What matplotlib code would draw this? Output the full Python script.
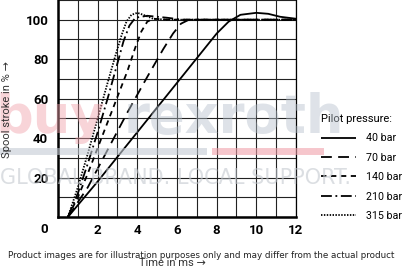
import matplotlib
matplotlib.use("Agg")
import matplotlib.pyplot as plt
from matplotlib.lines import Line2D

# time in ms, spool stroke in %
t_40 = [0.5, 2.0, 4.0, 6.0, 8.0, 8.6, 9.2, 10.0, 10.6, 11.2, 12.0]
s_40 = [0, 18, 43, 68, 93, 99, 102.5, 103.5, 103, 101.5, 100.5]

t_70 = [0.5, 1.5, 2.5, 3.5, 4.5, 5.3, 5.8, 6.2, 6.6, 7.0, 12.0]
s_70 = [0, 15, 34, 53, 71, 85, 93, 98, 100, 100, 100]

t_140 = [0.5, 1.0, 1.5, 2.0, 2.5, 3.0, 3.5, 3.9, 4.2, 4.5, 4.8, 5.5, 12.0]
s_140 = [0, 10, 22, 35, 48, 61, 74, 86, 94, 99, 100.5, 100, 100]

t_210 = [0.5, 1.0, 1.5, 2.0, 2.5, 3.0, 3.3, 3.6, 3.9, 4.5, 5.5, 6.3, 12.0]
s_210 = [0, 12, 27, 43, 60, 78, 89, 97, 101, 102, 101, 100, 100]

t_315 = [0.5, 1.0, 1.5, 2.0, 2.5, 2.9, 3.2, 3.45, 3.7, 4.0, 4.3, 4.8, 5.5, 12.0]
s_315 = [0, 15, 32, 50, 68, 82, 92, 99, 102.5, 103.5, 102.5, 100.5, 100, 100]

labels = ["40 bar", "70 bar", "140 bar", "210 bar", "315 bar"]
x_ticks = [2, 4, 6, 8, 10, 12]
y_ticks = [20, 40, 60, 80, 100]

FONT = ["Roboto", "DejaVu Sans"]

W, H = 406, 266
fig = plt.figure(figsize=(W / 100, H / 100), dpi=100)
ax = fig.add_axes([58 / W, 49 / H, 238 / W, 217 / H])

series = [(t_40, s_40, (0, ())), (t_70, s_70, (0, (6, 3.5))),
          (t_140, s_140, (0, (3, 2.5))), (t_210, s_210, (0, (6, 2, 1, 2))),
          (t_315, s_315, (0, (0.8, 0.8)))]
for (t, s, ls), lab in zip(series, labels):
    ax.plot(t, s, color="black", lw=1.3, linestyle=ls, label=lab, zorder=3)

ax.set_xlim(0, 12)
ax.set_ylim(0, 110)
ax.set_xticks(range(0, 13), minor=True)
ax.set_yticks(range(0, 111, 10), minor=True)
ax.set_xticks(x_ticks)
ax.set_yticks(y_ticks)
ax.grid(True, which="both", color="#222222", lw=0.8)
ax.tick_params(which="both", length=0)
ax.tick_params(axis="y", pad=7)
ax.tick_params(axis="x", pad=5)
for lab in ax.get_xticklabels() + ax.get_yticklabels():
    lab.set_fontfamily(FONT)
    lab.set_fontweight("bold")
    lab.set_fontsize(9.5)
ax.spines["top"].set_visible(False)
ax.spines["right"].set_linewidth(0.9)
ax.spines["left"].set_linewidth(1.8)
ax.spines["bottom"].set_linewidth(1.8)
ax.text(-0.68, -6.5, "0", ha="center", va="center", fontsize=9.5,
        fontweight="bold", family=FONT, clip_on=False)

fig.text(7 / W, 1 - 110 / H, "Spool stroke in % \u2192", rotation=90,
         ha="center", va="center", fontsize=8, family=FONT, color="#333333")
fig.text(172 / W, 1 - 263 / H, "Time in ms \u2192", ha="center", va="center",
         fontsize=8, family=FONT, color="#333333")

ax.legend(loc="upper left", bbox_to_anchor=(321 / W, 1 - 114 / H),
          bbox_transform=fig.transFigure, frameon=False,
          title="Pilot pressure:", alignment="left", prop={"family": FONT, "size": 7.7},
          title_fontproperties={"family": FONT, "size": 8},
          handlelength=3.3, handletextpad=0.9, labelspacing=0.88, borderpad=0,
          borderaxespad=0)

# watermark
fig.text(-4 / W, 1 - 118 / H, "buy", fontsize=38, fontweight="bold", family="DejaVu Sans",
         color="#f0a0aa", alpha=0.45, va="center", ha="left", zorder=0)
fig.text(124 / W, 1 - 118 / H, "rexroth", fontsize=38, fontweight="bold", family="DejaVu Sans",
         color="#b6c0cc", alpha=0.45, va="center", ha="left", zorder=0)
fig.text(0 / W, 1 - 178 / H, "GLOBAL BRAND. LOCAL SUPPORT.", fontsize=15, family="DejaVu Sans",
         color="#c4c9cf", alpha=0.6, va="center", ha="left", zorder=0)
fig.add_artist(Line2D([0, 203 / W], [1 - 151 / H] * 2, color="#c4cbd4", lw=5, alpha=0.6))
fig.add_artist(Line2D([215 / W, 320 / W], [1 - 151 / H] * 2, color="#f0a0aa", lw=5, alpha=0.6))

fig.text(8 / W, 1 - 256 / H,
         "Product images are for illustration purposes only and may differ from the actual product",
         fontsize=6.3, family="DejaVu Sans", color="#222222", va="center", ha="left")

fig.savefig("out.png", dpi=100)
